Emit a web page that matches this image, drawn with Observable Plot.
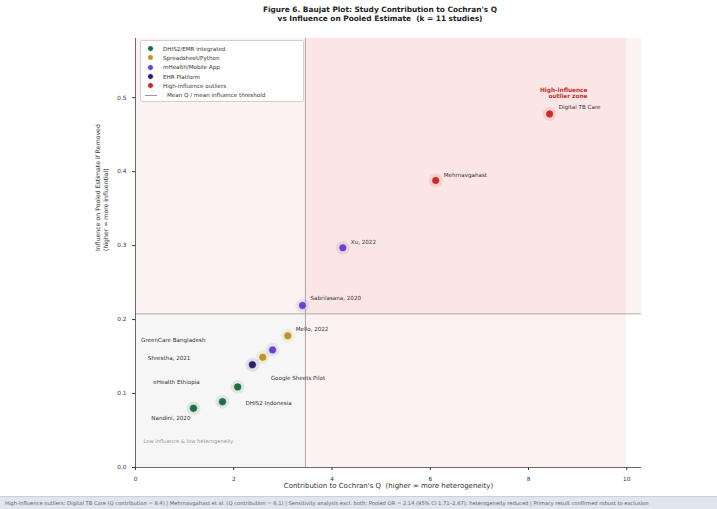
<!DOCTYPE html>
<html>
<head>
<meta charset="utf-8">
<script src="https://cdn.jsdelivr.net/npm/d3@7"></script>
<script src="https://cdn.jsdelivr.net/npm/@observablehq/plot@0.6"></script>
<style>
  body { margin:0; width:717px; height:509px; position:relative; overflow:hidden; background:#fff; font-family:"DejaVu Sans", sans-serif; }
  #title { position:absolute; top:5px; left:130px; width:500px; text-align:center; font-weight:bold; font-size:7.4px; line-height:9px; color:#222; }
  #chart { position:absolute; top:28px; left:0; }
  #legend { position:absolute; left:140px; top:40px; width:164px; height:62px; background:rgba(255,255,255,0.92); border:1px solid #d0d0d0; border-radius:2px; font-size:5.6px; color:#333; box-sizing:border-box; padding:3px 0 0 6px; }
  .li { height:9.3px; display:flex; align-items:center; }
  .dot { width:7px; height:7px; border-radius:50%; margin-right:9px; border:0.5px solid #fff; box-sizing:border-box; }
  .ln { width:12px; height:0; border-top:1px solid #999; margin-right:4px; margin-left:-2px; }
  #footer { position:absolute; top:496px; left:0; width:717px; height:13px; background:#dfe6ee; border-top:1px solid #c8d0da; font-size:5.2px; color:#5a6472; white-space:nowrap; overflow:hidden; line-height:12px; padding-left:5px; box-sizing:border-box; }
</style>
</head>
<body>
<div id="title">Figure 6. Baujat Plot: Study Contribution to Cochran's Q<br>vs Influence on Pooled Estimate&nbsp; (k = 11 studies)</div>
<div id="chart"></div>
<div id="legend"></div>
<div id="footer"></div>
<script>
// ---- data ----
const studies = ["Digital TB Care", "Mehrnavgahast", "Xu, 2022", "Sabrilasana, 2020", "Mello, 2022",
  "GreenCare Bangladesh", "Google Sheets Pilot", "Shrestha, 2021", "eHealth Ethiopia", "DHIS2 Indonesia", "Nandini, 2020"];
const qContribution = [8.43, 6.11, 4.22, 3.40, 3.10, 2.79, 2.59, 2.38, 2.08, 1.77, 1.18];
const influence = [0.478, 0.388, 0.297, 0.219, 0.178, 0.159, 0.149, 0.139, 0.109, 0.089, 0.080];
const platform = ["High-influence outliers", "High-influence outliers", "mHealth/Mobile App", "mHealth/Mobile App",
  "Spreadsheet/Python", "mHealth/Mobile App", "Spreadsheet/Python", "EHR Platform",
  "DHIS2/EMR integrated", "DHIS2/EMR integrated", "DHIS2/EMR integrated"];
const categories = ["DHIS2/EMR integrated", "Spreadsheet/Python", "mHealth/Mobile App", "EHR Platform", "High-influence outliers"];
const categoryColors = ["#1e6b45", "#b8962a", "#6a44c8", "#26206e", "#c0302b"];
const thresholdLabel = "Mean Q / mean influence threshold";
const xTicks = [0, 2, 4, 6, 8, 10];
const yTicks = [0, 0.1, 0.2, 0.3, 0.4, 0.5];
const footerText = "High-influence outliers: Digital TB Care (Q contribution = 8.4) | Mehrnavgahast et al. (Q contribution = 6.1) | Sensitivity analysis excl. both: Pooled OR = 2.14 (95% CI 1.71\u20132.67); heterogeneity reduced | Primary result confirmed robust to exclusion";

// ---- layout (not data) ----
const xDomain = [0, 10.3], yDomain = [0, 0.58], shadeRight = 10;
const labelPlacement = {
  "Digital TB Care":      {dx: 9,   dy: -7, anchor: "start"},
  "Mehrnavgahast":        {dx: 8,   dy: -5, anchor: "start"},
  "Xu, 2022":             {dx: 8,   dy: -6, anchor: "start"},
  "Sabrilasana, 2020":    {dx: 8,   dy: -7, anchor: "start"},
  "Mello, 2022":          {dx: 8,   dy: -7, anchor: "start"},
  "GreenCare Bangladesh": {dx: -67, dy: -10, anchor: "end"},
  "Google Sheets Pilot":  {dx: 8,   dy: 21, anchor: "start"},
  "Shrestha, 2021":       {dx: -62, dy: -6, anchor: "end"},
  "eHealth Ethiopia":     {dx: -38, dy: -5, anchor: "end"},
  "DHIS2 Indonesia":      {dx: 23,  dy: 2, anchor: "start"},
  "Nandini, 2020":        {dx: -3,  dy: 10, anchor: "end"}
};

const rows = studies.map((s, i) => ({study: s, q: qContribution[i], inf: influence[i], platform: platform[i]}));
const meanQ = d3.mean(qContribution);
const meanInf = d3.mean(influence);

const labelMarks = rows.map(r => {
  const p = labelPlacement[r.study];
  return Plot.text([r], {x: "q", y: "inf", text: "study", dx: p.dx, dy: p.dy, textAnchor: p.anchor,
    fontSize: 5.6, fill: "#333"});
});

const chart = Plot.plot({
  width: 717, height: 468,
  marginLeft: 135, marginRight: 76, marginTop: 10, marginBottom: 29,
  style: {fontFamily: "DejaVu Sans, sans-serif", fontSize: "5.8px", color: "#333", background: "transparent"},
  x: {domain: xDomain, ticks: xTicks, tickSize: 3, label: null},
  y: {domain: yDomain, ticks: yTicks, tickFormat: d3.format(".1f"), tickSize: 3, label: null},
  color: {domain: categories, range: categoryColors},
  marks: [
    // shaded regions
    Plot.rect([0], {x1: xDomain[0], x2: meanQ, y1: yDomain[0], y2: meanInf, fill: "#f6f6f6"}),
    Plot.rect([0], {x1: xDomain[0], x2: xDomain[1], y1: meanInf, y2: yDomain[1], fill: "#d62728", fillOpacity: 0.06}),
    Plot.rect([0], {x1: meanQ, x2: shadeRight, y1: yDomain[0], y2: yDomain[1], fill: "#d62728", fillOpacity: 0.06}),
    // thresholds
    Plot.ruleX([meanQ], {stroke: "#a0a0a0", strokeWidth: 0.9}),
    Plot.ruleY([meanInf], {stroke: "#a0a0a0", strokeWidth: 0.9}),
    // axes
    Plot.axisX({ticks: xTicks, tickSize: 3, label: null, fontSize: 5.8}),
    Plot.axisY({ticks: yTicks, tickFormat: d3.format(".1f"), tickSize: 3, label: null, fontSize: 5.8}),
    Plot.ruleX([xDomain[0]], {stroke: "#444", strokeWidth: 0.8}),
    Plot.ruleY([yDomain[0]], {stroke: "#444", strokeWidth: 0.8}),
    // axis labels
    Plot.text(["Contribution to Cochran's Q  (higher = more heterogeneity)"], {frameAnchor: "bottom", dy: 20, fontSize: 7, fill: "#333"}),
    Plot.text(["Influence on Pooled Estimate if Removed\n(higher = more influential)"], {frameAnchor: "left", dx: -34, dy: -2, rotate: -90, fontSize: 6.2, fill: "#333", lineHeight: 1.25}),
    // annotations
    Plot.text(["High-influence\noutlier zone"], {frameAnchor: "top-right", dx: -54, dy: 49, fontSize: 5.8, fontWeight: "bold", fill: "#c0302b", lineHeight: 1.1}),
    Plot.text(["Low influence & low heterogeneity"], {frameAnchor: "bottom-left", dx: 8, dy: -25, textAnchor: "start", fontSize: 5.2, fill: "#999"}),
    // points
    Plot.dot(rows, {x: "q", y: "inf", r: 7, fill: "platform", fillOpacity: 0.1}),
    Plot.dot(rows, {x: "q", y: "inf", r: 4, fill: "platform", stroke: "white", strokeWidth: 0.6}),
    ...labelMarks
  ]
});
document.getElementById("chart").appendChild(chart);

// legend
const leg = document.getElementById("legend");
categories.forEach((c, i) => {
  const d = document.createElement("div"); d.className = "li";
  d.innerHTML = `<span class="dot" style="background:${categoryColors[i]}"></span><span>${c}</span>`;
  leg.appendChild(d);
});
const dl = document.createElement("div"); dl.className = "li";
dl.innerHTML = `<span class="ln"></span><span style="margin-left:6px">${thresholdLabel}</span>`;
leg.appendChild(dl);

document.getElementById("footer").textContent = footerText;
</script>
</body>
</html>
